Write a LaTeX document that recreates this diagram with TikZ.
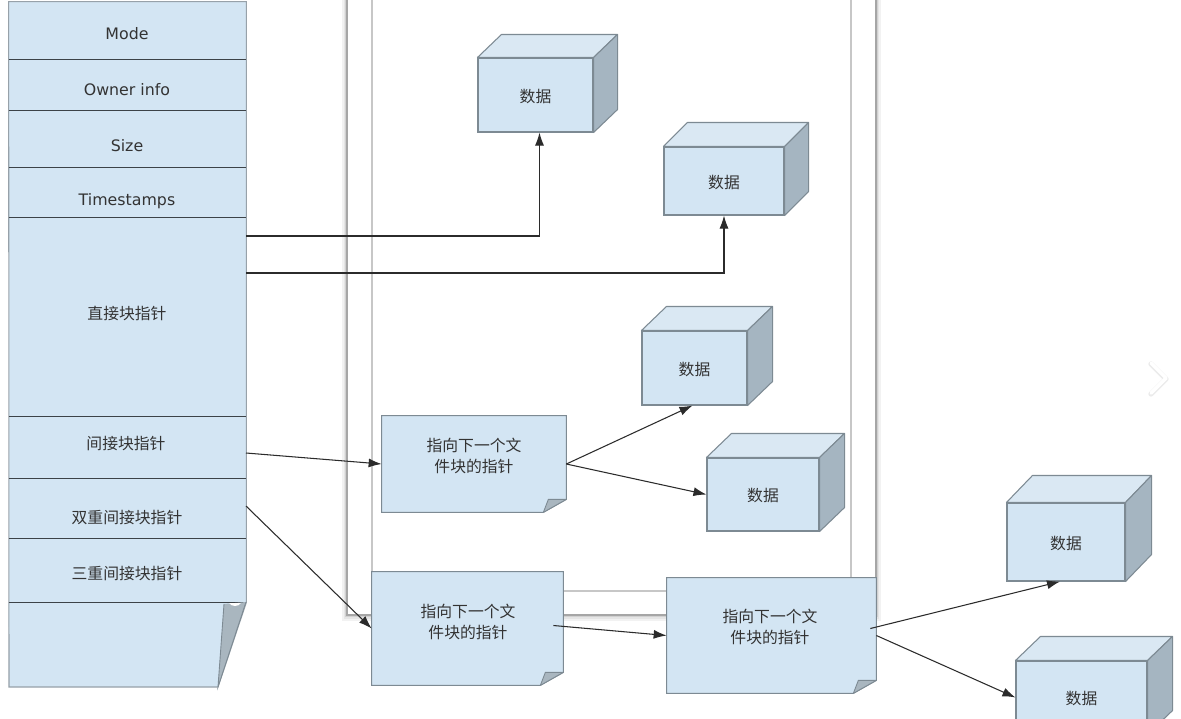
\documentclass[tikz,border=0pt]{standalone}
\usepackage{fontspec}
\setmainfont{DejaVu Sans}
\newfontfamily\cjk{Noto Sans CJK SC}
\usetikzlibrary{arrows.meta,calc,fit}
\definecolor{boxfill}{HTML}{D3E5F3}
\definecolor{boxline}{HTML}{7D8A93}
\definecolor{sidefill}{HTML}{A5B5C1}
\definecolor{topfill}{HTML}{DAE8F3}
\definecolor{foldfill}{HTML}{A9B6BF}
\definecolor{txt}{HTML}{333333}
\definecolor{conncol}{HTML}{2B2B2B}
\definecolor{divline}{HTML}{3C4247}
\newcommand\datacube[7]{%
  \node[cubefront, fit={(#2,#3) (#4,#5)}] (#1) {};
  \node[zh] (#1t) at ($(#1.center)+(0,1)$) {数据};
  \draw[cubetop] (#1.north west) -- ++(#6,-#7) -- ($(#1.north east)+(#6,-#7)$) -- (#1.north east) -- cycle;
  \draw[cubeside] (#1.north east) -- ++(#6,-#7) -- ($(#1.south east)+(#6,-#7)$) -- (#1.south east) -- cycle;}
\newcommand\notesheet[5]{%
  \node[notebox, fit={(#2,#3) (#4,#5)}] (#1) {};
  \draw[notebody] (#1.north west) -- (#1.north east) -- ($(#1.south east)+(0,-13)$) -- ($(#1.south east)+(-23,0)$) -- (#1.south west) -- cycle;
  \draw[fold] ($(#1.south east)+(0,-13)$) -- ($(#1.south east)+(-18,-13)$) -- ($(#1.south east)+(-23,0)$) -- cycle;}
\begin{document}
\begin{tikzpicture}[x=0.02cm,y=-0.02cm,
  every node/.style={text=txt},
  lat/.style={font=\fontsize{9}{11}\selectfont},
  zh/.style={font=\cjk\fontsize{9}{11.5}\selectfont, align=center},
  rowbox/.style={fill=boxfill, inner sep=0pt},
  cubefront/.style={fill=boxfill, draw=boxline, line width=0.6pt, inner sep=0pt},
  cubetop/.style={fill=topfill, draw=boxline, line width=0.6pt, line join=round},
  cubeside/.style={fill=sidefill, draw=boxline, line width=0.6pt, line join=round},
  notebox/.style={inner sep=0pt},
  notebody/.style={fill=boxfill, draw=boxline, line width=0.6pt},
  fold/.style={fill=foldfill, draw=boxline, line width=0.5pt, line join=round},
  conn/.style={draw=conncol, line width=0.6pt, -{Latex[length=2.6mm,width=1.8mm]}},
]
\useasboundingbox (0,0) rectangle (1181,718);
\clip (0,0) rectangle (1181,718);
\fill[white] (0,0) rectangle (1181,718);

% window frame
\fill[black!5] (342,-20) rectangle (881,621);
\fill[black!10] (344,-20) rectangle (879,619);
\fill[black!18] (345,-20) rectangle (878,617);
\filldraw[fill=white, draw=black!35, line width=0.8pt] (347,-20) rectangle (876,615);
\draw[black!22, line width=0.6pt] (372,-20) rectangle (851,591);

% inode column
\node[rowbox, fit={(9,2) (246,59)}] (r1) {};
\node[rowbox, fit={(9,59) (246,110)}] (r2) {};
\node[rowbox, fit={(9,110) (246,167)}] (r3) {};
\node[rowbox, fit={(9,167) (246,217)}] (r4) {};
\node[rowbox, fit={(9,217) (246,416)}] (r5) {};
\node[rowbox, fit={(9,416) (246,478)}] (r6) {};
\node[rowbox, fit={(9,478) (246,538)}] (r7) {};
\node[rowbox, fit={(9,538) (246,602)}] (r8) {};
\fill[boxfill] (r8.south west) -- (r8.south east) -- (218,687) -- (9,687) -- cycle;
\draw[boxline!80, line width=0.6pt] (r1.north west) -- (r1.north east) -- (r8.south east) -- (218,687) -- (9,687) -- cycle;
\foreach \r in {r1,r2,r3,r4,r5,r6,r7,r8}
  \draw[divline, line width=0.6pt] (\r.south west) -- (\r.south east);
\fill[foldfill] (224,604) -- (246,602) -- (218,687) -- cycle;
\draw[boxline, line width=0.5pt] (224,604) -- (218,687) -- (246,602);
\fill[white] (229,603) .. controls (232,607) and (238,607) .. (241,603) -- cycle;

\node[lat] (t1) at (127,34) {Mode};
\node[lat] (t2) at (127,90) {Owner info};
\node[lat] (t3) at (127,146) {Size};
\node[lat] (t4) at (127,201) {Timestamps};
\node[zh] (t5) at (127,313) {直接块指针};
\node[zh] (t6) at (126,443) {间接块指针};
\node[zh] (t7) at (127,517) {双重间接块指针};
\node[zh] (t8) at (127,573) {三重间接块指针};

% data cubes
\datacube{c1}{478}{58}{593}{132}{24}{23}
\datacube{c2}{664}{147}{784}{215}{24}{24}
\datacube{c3}{642}{331}{747}{405}{25}{24}
\datacube{c4}{707}{458}{819}{531}{25}{24}
\datacube{c5}{1007}{503}{1125}{581}{26}{27}
\datacube{c6}{1016}{661}{1147}{734}{25}{24}

% pointer sheets
\notesheet{n1}{382}{416}{566}{512}
\notesheet{n2}{372}{572}{563}{685}
\notesheet{n3}{667}{578}{876}{693}
\node[zh] (n1t) at (474,456) {指向下一个文\\件块的指针};
\node[zh] (n2t) at (468,622) {指向下一个文\\件块的指针};
\node[zh] (n3t) at (770,627) {指向下一个文\\件块的指针};

% connectors
\coordinate (p1) at (246,236);
\coordinate (p2) at (246,273);
\coordinate (p3) at (246,453);
\coordinate (p4) at (246,506);
\draw[conn] (p1) -| ($(c1.south)+(4,0)$);
\draw[conn] (p2) -| (c2.south);
\draw[conn] (p3) -- (n1.west);
\draw[conn] (n1.east) -- ($(c3.south)+(-2,0)$);
\draw[conn] (n1.east) -- (c4.west);
\draw[conn] (p4) -- (n2.west);
\draw[conn] ($(n2.east)+(-10,-3)$) -- (n3.west);
\draw[conn] ($(n3.east)+(-6,-7)$) -- ($(c5.south)+(-6,0)$);
\draw[conn] (n3.east) -- (c6.west);

% faint scroll chevron
\draw[black!8, line width=3pt, line cap=round, line join=round] (1151,364) -- (1166,379) -- (1151,394);
\draw[white, line width=2pt, line cap=round, line join=round] (1151,363) -- (1166,378) -- (1151,393);
\end{tikzpicture}
\end{document}
